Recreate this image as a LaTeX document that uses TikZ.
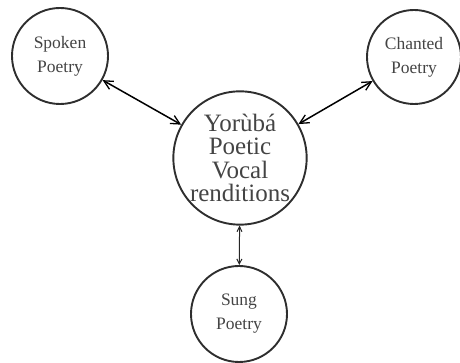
\documentclass[tikz,border=0pt]{standalone}
\usepackage{fontspec}
\setmainfont{Liberation Serif}
\usetikzlibrary{arrows.meta}
\definecolor{ln}{HTML}{2E2E2E}
\definecolor{tx}{HTML}{444444}
\tikzset{
  small/.style={circle, draw=ln, line width=1.9pt, minimum size=96pt, inner sep=0pt, align=center, text=tx, font=\fontsize{17.5}{24}\selectfont},
  big/.style={circle, draw=ln, line width=1.9pt, minimum size=128pt, inner sep=0pt, align=center, text=tx, font=\fontsize{25}{23.5}\selectfont},
  link/.style={line width=1.5pt, draw=black, {Straight Barb[length=9pt,width=9pt,line width=1.3pt]}-{Straight Barb[length=9pt,width=9pt,line width=1.3pt]}},
  thinlink/.style={line width=1pt, draw=black!85, {Straight Barb[length=5pt,width=5pt]}-{Straight Barb[length=5pt,width=5pt]}}
}
\begin{document}
\begin{tikzpicture}[x=1pt,y=1pt]
\useasboundingbox (0,0) rectangle (460,363);
\node[small] (spoken) at (60,307) {Spoken\\Poetry};
\node[small, minimum size=94pt] (chanted) at (414,306) {Chanted\\Poetry};
\node[big] (center) at (240,205) {Yorùbá\\Poetic\\Vocal\\renditions};
\node[small] (sung) at (239,49) {Sung\\Poetry};
\draw[link] (spoken) -- (center);
\draw[link] (chanted) -- (center);
\draw[thinlink] (center) -- (sung);
\end{tikzpicture}
\end{document}
